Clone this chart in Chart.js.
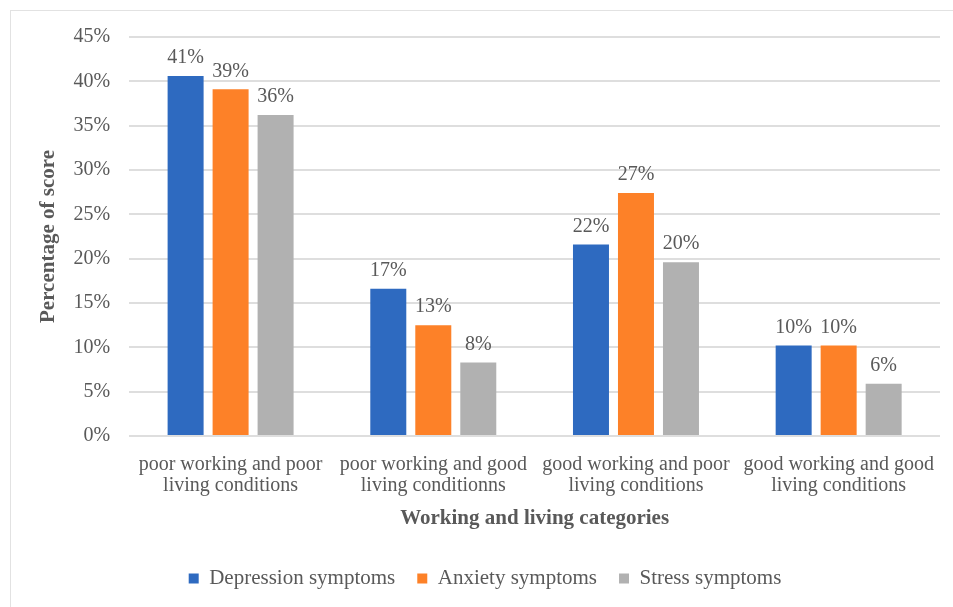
<!DOCTYPE html>
<html>
<head>
<meta charset="utf-8">
<script src="https://cdn.jsdelivr.net/npm/chart.js@4.4.1/dist/chart.umd.min.js"></script>
<style>
  html, body { margin: 0; padding: 0; background: #fff; overflow: hidden; }
  #frame { position: absolute; left: 10px; top: 10px; width: 960px; height: 620px; border: 1px solid #e2e2e2; }
  #wrap { position: absolute; left: 0; top: 0; width: 953px; height: 607px; }
</style>
</head>
<body>
<div id="frame"></div>
<div id="wrap"><canvas id="mycanvas"></canvas></div>
<script>
var categories = [
  ['poor working and poor', 'living conditions'],
  ['poor working and good', 'living conditionns'],
  ['good working and poor', 'living conditions'],
  ['good working and good', 'living conditions']
];
var depression = [40.6, 16.6, 21.6, 10.2];
var anxiety = [39.1, 12.5, 27.4, 10.2];
var stress = [36.2, 8.3, 19.6, 5.9];
var yTicks = [0, 5, 10, 15, 20, 25, 30, 35, 40, 45];

var textColor = '#595959';
var serif = "'Liberation Serif', 'Times New Roman', serif";

// draw the rounded percentage above each bar
var barLabels = {
  id: 'barLabels',
  afterDatasetsDraw: function(chart) {
    var ctx = chart.ctx;
    ctx.save();
    ctx.font = '20px ' + serif;
    ctx.fillStyle = textColor;
    ctx.textAlign = 'center';
    ctx.textBaseline = 'bottom';
    chart.data.datasets.forEach(function(ds, i) {
      chart.getDatasetMeta(i).data.forEach(function(bar, j) {
        ctx.fillText(Math.round(ds.data[j]) + '%', bar.x, bar.y - 8);
      });
    });
    ctx.restore();
  }
};

var chartdata = {
  labels: categories,
  datasets: [
    { label: 'Depression symptoms', backgroundColor: '#2e6ac0', data: depression },
    { label: 'Anxiety symptoms', backgroundColor: '#fd8128', data: anxiety },
    { label: 'Stress symptoms', backgroundColor: '#b1b1b1', data: stress }
  ]
};

var ctx = document.getElementById('mycanvas');
new Chart(ctx, {
  type: 'bar',
  data: chartdata,
  plugins: [barLabels],
  options: {
    responsive: true,
    maintainAspectRatio: false,
    animation: false,
    categoryPercentage: 0.666,
    barPercentage: 0.8,
    layout: { padding: { left: 30, right: 13, top: 37, bottom: 8 } },
    plugins: {
      tooltip: { enabled: false },
      legend: {
        position: 'bottom',
        labels: {
          boxWidth: 10,
          boxHeight: 10,
          padding: 22,
          color: textColor,
          font: { family: serif, size: 21 }
        }
      }
    },
    scales: {
      x: {
        grid: { display: false },
        border: { display: false },
        ticks: { color: textColor, font: { family: serif, size: 20, lineHeight: 1.05 }, padding: 10, maxRotation: 0 },
        title: {
          display: true,
          text: 'Working and living categories',
          color: textColor,
          font: { family: serif, size: 21, weight: 'bold', lineHeight: 1.0 },
          padding: { top: 2, bottom: 17 }
        }
      },
      y: {
        min: 0,
        max: 45,
        afterBuildTicks: function(axis) {
          axis.ticks = yTicks.map(function(v) { return { value: v }; });
        },
        grid: { color: '#dedede', lineWidth: 2, drawTicks: false },
        border: { display: false },
        ticks: {
          color: textColor,
          font: { family: serif, size: 20 },
          padding: 19,
          callback: function(v) { return v + '%'; }
        },
        title: {
          display: true,
          text: 'Percentage of score',
          color: textColor,
          font: { family: serif, size: 21, weight: 'bold', lineHeight: 0.6 },
          padding: { top: 12, bottom: 0 }
        }
      }
    }
  }
});
</script>
</body>
</html>
